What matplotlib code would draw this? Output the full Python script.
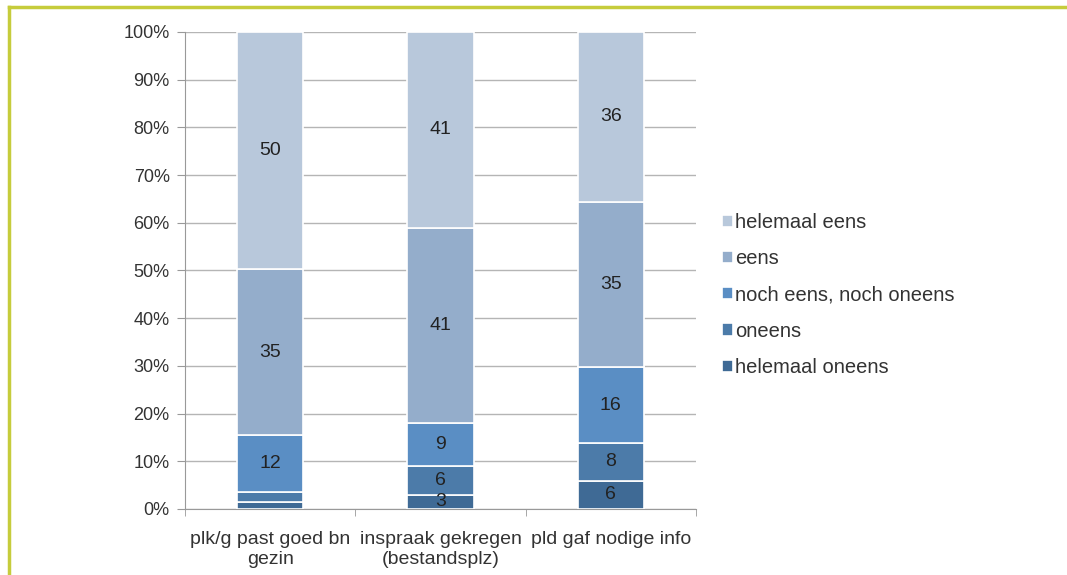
import matplotlib.pyplot as plt
from matplotlib.lines import Line2D
import numpy as np

plt.rcParams['font.family'] = ['Liberation Sans', 'DejaVu Sans']

categories = ['plk/g past goed bn\ngezin', 'inspraak gekregen\n(bestandsplz)', 'pld gaf nodige info']
series = ['helemaal oneens', 'oneens', 'noch eens, noch oneens', 'eens', 'helemaal eens']
helemaal_oneens = [1.5, 3, 6]
oneens = [2, 6, 8]
noch = [12, 9, 16]
eens = [35, 41, 35]
helemaal_eens = [50, 41, 36]
colors = ['#3f6a95', '#4c7ba9', '#5a8ec4', '#94adcb', '#b8c8db']

values = np.array([helemaal_oneens, oneens, noch, eens, helemaal_eens], dtype=float)
shares = values / values.sum(axis=0) * 100

fig = plt.figure(figsize=(10.67, 5.75), dpi=100)
ax = fig.add_axes([0.1734, 0.1148, 0.4789, 0.8296])

x = np.arange(len(categories))
bottom = np.zeros(len(categories))
for i, name in enumerate(series):
    bars = ax.bar(x, shares[i], 0.39, bottom=bottom, color=colors[i],
                  edgecolor='white', linewidth=1.2, label=name, zorder=3)
    for j, b in enumerate(bars):
        if values[i, j] >= 3:
            ax.text(b.get_x() + b.get_width() / 2, bottom[j] + shares[i, j] / 2,
                    f'{values[i, j]:g}', ha='center', va='center',
                    fontsize=14, color='#222222', zorder=4)
    bottom += shares[i]

ax.set_xlim(-0.5, 2.5)
ax.set_ylim(0, 100)
ax.set_yticks(np.arange(0, 101, 10))
ax.set_yticklabels([f'{v}%' for v in range(0, 101, 10)], fontsize=13, color='#333333')
ax.yaxis.grid(True, color='#b5b5b5', linewidth=1, zorder=0)
ax.set_xticks(x)
ax.set_xticklabels(categories, fontsize=14, color='#333333', linespacing=1.25)
ax.set_xticks([-0.5, 0.5, 1.5, 2.5], minor=True)
ax.tick_params(axis='x', which='major', length=0, pad=16)
ax.tick_params(axis='x', which='minor', length=5, color='#999999')
ax.tick_params(axis='y', length=6, color='#999999', pad=5)
for s in ['top', 'right']:
    ax.spines[s].set_visible(False)
for s in ['left', 'bottom']:
    ax.spines[s].set_color('#999999')

handles, labels = ax.get_legend_handles_labels()
fig.legend(handles[::-1], labels[::-1], loc='center left', bbox_to_anchor=(0.66, 0.487),
           frameon=False, fontsize=14.5, handlelength=0.55, handleheight=0.55,
           handletextpad=0.1, labelspacing=0.85, labelcolor='#333333')

# frame lines of the page
fig.add_artist(Line2D([0.0085, 1.0], [0.988, 0.988], color='#c6cc3c', linewidth=2.5))
fig.add_artist(Line2D([0.0085, 0.0085], [0.0, 0.988], color='#c6cc3c', linewidth=2.5))

fig.savefig('out.png', dpi=100)
